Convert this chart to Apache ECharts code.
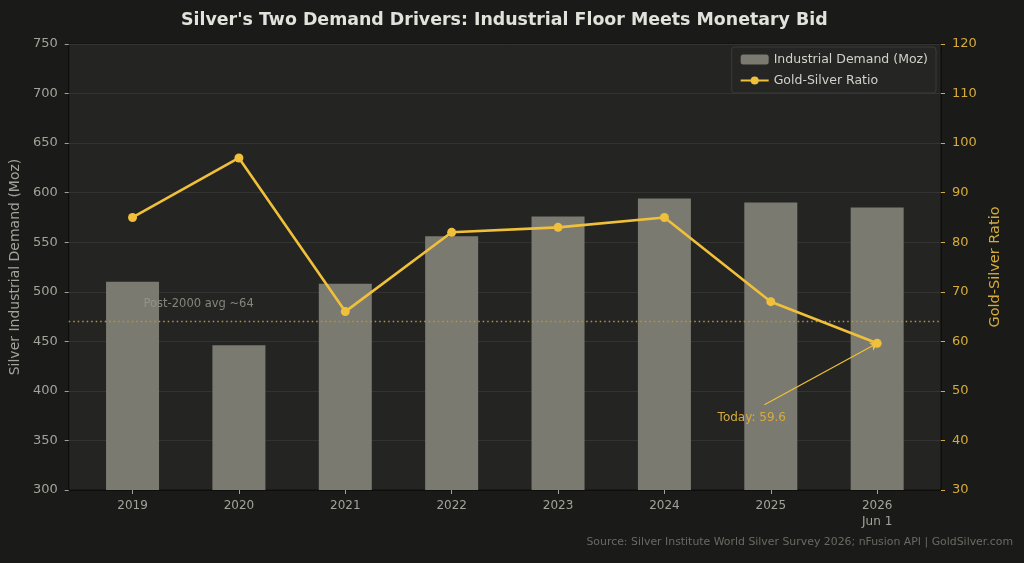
<!DOCTYPE html>
<html>
<head>
<meta charset="utf-8">
<script src="https://cdn.jsdelivr.net/npm/echarts@6/dist/echarts.min.js"></script>
<style>
  html, body { margin: 0; padding: 0; background: #1a1a18; }
  #chart { width: 1024px; height: 563px; }
</style>
</head>
<body>
<div id="chart"></div>
<script>
// data
const years = ["2019", "2020", "2021", "2022", "2023", "2024", "2025", "2026\nJun 1"];
const industrialDemand = [510, 446, 508, 556, 576, 594, 590, 585];
const goldSilverRatio = [85, 97, 66, 82, 83, 85, 68, 59.6];
const leftTicks = { min: 300, max: 750, step: 50 };
const rightTicks = { min: 30, max: 120, step: 10 };
const avgRatio = 64;

const gold = "#f0c03a";
const goldText = "#d6ab3a";
const grayText = "#a3a39b";
const font = "DejaVu Sans";

// x positions are category indexes, axis padded like the original (-0.6 .. 7.6)
const xIdx = years.map((y, i) => i);

let chart = echarts.init(document.getElementById("chart"));

let option = {
  backgroundColor: "#1a1a18",
  textStyle: { fontFamily: font },
  title: [
    {
      text: "Silver's Two Demand Drivers: Industrial Floor Meets Monetary Bid",
      left: 176,
      top: 7,
      textStyle: { color: "#e2e2dc", fontSize: 17.4, fontWeight: "bold", fontFamily: font },
    },
    {
      text: "Source: Silver Institute World Silver Survey 2026; nFusion API | GoldSilver.com",
      right: 6,
      bottom: 10,
      textStyle: { color: "#6a6a64", fontSize: 10.9, fontWeight: "normal", fontFamily: font },
    },
  ],
  legend: {
    orient: "vertical",
    right: 88,
    top: 47,
    itemWidth: 28,
    itemHeight: 10,
    itemGap: 8,
    padding: [6, 8, 6, 8],
    backgroundColor: "rgba(38,38,36,0.9)",
    borderColor: "#3a3a38",
    borderWidth: 1,
    borderRadius: 3,
    textStyle: { color: "#d2d2cc", fontSize: 12.5, fontFamily: font },
    data: ["Industrial Demand (Moz)", "Gold-Silver Ratio"],
  },
  grid: {
    left: 66,
    right: 83,
    top: 44,
    bottom: 73,
    show: true,
    backgroundColor: "#242423",
    borderColor: "#0e0e0d",
    borderWidth: 1,
  },
  xAxis: {
    type: "value",
    min: -0.6,
    max: 7.6,
    axisLine: { show: true, onZero: false, lineStyle: { color: "#0e0e0d" } },
    axisTick: { show: true, customValues: xIdx, length: 4, lineStyle: { color: grayText } },
    axisLabel: {
      customValues: xIdx,
      formatter: (v) => years[Math.round(v)],
      color: grayText,
      fontSize: 12,
      margin: 8,
      lineHeight: 16,
    },
    splitLine: { show: false },
  },
  yAxis: [
    {
      type: "value",
      min: leftTicks.min,
      max: leftTicks.max,
      interval: leftTicks.step,
      name: "Silver Industrial Demand (Moz)",
      nameLocation: "middle",
      nameGap: 45,
      nameTextStyle: { color: grayText, fontSize: 14 },
      axisLine: { show: true, onZero: false, lineStyle: { color: "#0e0e0d" } },
      axisTick: { show: true, length: 4, lineStyle: { color: grayText } },
      axisLabel: { color: grayText, fontSize: 13, margin: 11 },
      splitLine: { show: true, lineStyle: { color: "#333331", width: 1 } },
    },
    {
      type: "value",
      min: rightTicks.min,
      max: rightTicks.max,
      interval: rightTicks.step,
      name: "Gold-Silver Ratio",
      nameLocation: "middle",
      nameGap: 40,
      nameRotate: 90,
      nameTextStyle: { color: goldText, fontSize: 14.5 },
      axisLine: { show: true, onZero: false, lineStyle: { color: "#0e0e0d" } },
      axisTick: { show: true, length: 4, lineStyle: { color: goldText } },
      axisLabel: { color: goldText, fontSize: 13, margin: 11 },
      splitLine: { show: false },
    },
  ],
  series: [
    {
      name: "Industrial Demand (Moz)",
      type: "bar",
      yAxisIndex: 0,
      barWidth: 53,
      itemStyle: { color: "#7b7a71" },
      data: industrialDemand.map((v, i) => [xIdx[i], v]),
    },
    {
      name: "Gold-Silver Ratio",
      type: "line",
      yAxisIndex: 1,
      symbol: "circle",
      symbolSize: 9,
      lineStyle: { color: gold, width: 2.6 },
      itemStyle: { color: gold },
      data: goldSilverRatio.map((v, i) => [xIdx[i], v]),
      z: 5,
      markLine: {
        silent: true,
        symbol: ["none", "none"],
        symbolSize: 7,
        label: { show: false },
        data: [
          {
            yAxis: avgRatio,
            lineStyle: { color: "#b8963a", type: [1.5, 3], width: 1.3 },
          },
          [
            { coord: [5.94, 47.2], symbol: "none", lineStyle: { color: gold, type: "solid", width: 1.2 } },
            { coord: [7, goldSilverRatio[7]], symbol: "arrow" },
          ],
        ],
      },
      markPoint: {
        silent: true,
        symbol: "circle",
        symbolSize: 0,
        data: [
          {
            coord: [0, 67.5],
            label: {
              show: true,
              formatter: "Post-2000 avg ~64",
              color: "rgba(150,150,140,0.85)",
              fontSize: 11.5,
              align: "left",
              position: "inside",
              offset: [11, 0],
            },
          },
          {
            coord: [6, 44.6],
            label: {
              show: true,
              formatter: "Today: 59.6",
              color: goldText,
              fontSize: 12,
              align: "center",
              position: "inside",
              offset: [-19, 0],
            },
          },
        ],
      },
    },
  ],
};

chart.setOption(option);
</script>
</body>
</html>
